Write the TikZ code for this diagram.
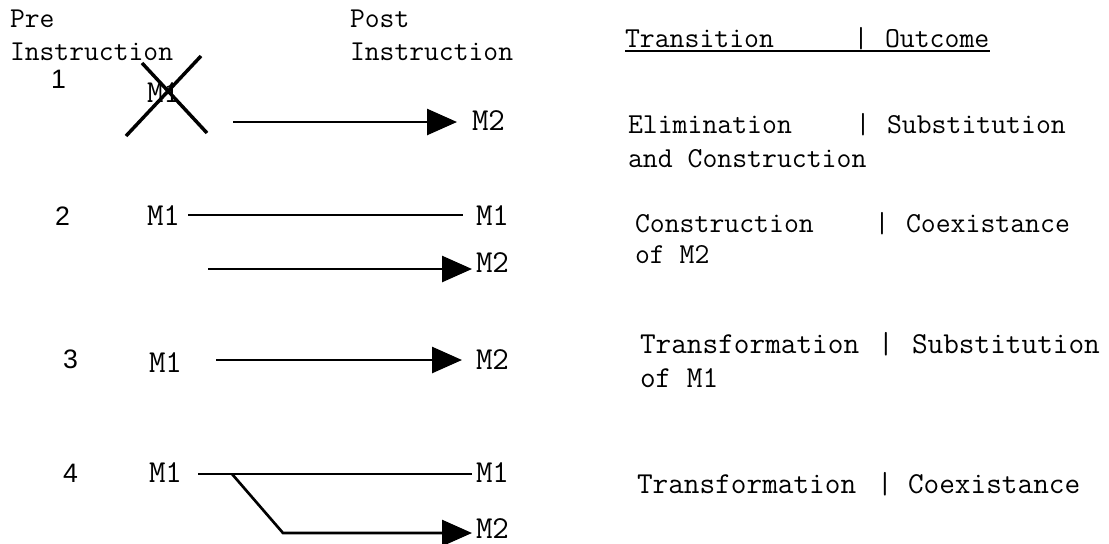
\documentclass[tikz,border=0pt]{standalone}
\usepackage{fontspec}
\newfontfamily\csans{Liberation Sans}
\usetikzlibrary{arrows.meta}
\begin{document}
\begin{tikzpicture}[x=0.75pt,y=-0.75pt,
  every node/.style={inner sep=0pt,outer sep=0pt},
  title/.style={anchor=base west,font=\ttfamily\fontsize{21.6}{22}\selectfont},
  txta/.style={anchor=base west,font=\ttfamily\fontsize{21.7}{23}\selectfont},
  txtb/.style={anchor=base west,font=\ttfamily\fontsize{22.8}{24}\selectfont},
  bara/.style={anchor=base,font=\ttfamily\fontsize{21.7}{23}\selectfont},
  barb/.style={anchor=base,font=\ttfamily\fontsize{22.8}{24}\selectfont},
  num/.style={anchor=base west,font=\csans\fontsize{20}{22}\selectfont},
  mlab/.style={anchor=base west,font=\ttfamily\fontsize{24}{25}\selectfont},
  conn/.style={line width=2pt},
  arr/.style={line width=2pt,-{Triangle[length=22.5pt,width=19.5pt]}},
  crossline/.style={line width=2.6pt}]
\useasboundingbox (0,0) rectangle (1109,543);

% column titles
\node[title] (pre1) at (10,27) {Pre};
\node[title] (pre2) at (10,60) {Instruction};
\node[title] (post1) at (350,27) {Post};
\node[title] (post2) at (350,60) {Instruction};

% header
\node[txta] (htr) at (625,47) {Transition};
\node[bara] (hbar) at (861,47) {|};
\node[txta] (hout) at (885,47) {Outcome};
\coordinate (ul1) at (625,51);
\coordinate (ul2) at (990,51);
\draw[line width=0.8pt] (ul1) -- (ul2);

% row 1
\node[num] (n1) at (51,88) {1};
\node[mlab] (r1a) at (147,102) {M1};
\coordinate (x1a) at (126,136); \coordinate (x1b) at (201,56);
\coordinate (x2a) at (142,63);  \coordinate (x2b) at (207,133);
\draw[crossline] (x1a) -- (x1b);
\draw[crossline] (x2a) -- (x2b);
\node[mlab] (r1b) at (472,130) {M2};
\coordinate (a1s) at (233,122); \coordinate (a1e) at (457,122);
\draw[arr] (a1s) -- (a1e);
\node[txta] (t1a) at (628,133) {Elimination};
\node[bara] (t1bar) at (863,133) {|};
\node[txta] (t1b) at (887,133) {Substitution};
\node[txta] (t1c) at (628,167) {and Construction};

% row 2
\node[num] (n2) at (55,225) {2};
\node[mlab] (r2a) at (147,225) {M1};
\node[mlab] (r2b) at (476,225) {M1};
\node[mlab] (r2c) at (476,272) {M2};
\coordinate (l2s) at (188,215); \coordinate (l2e) at (463,215);
\draw[conn] (l2s) -- (l2e);
\coordinate (a2s) at (208,269); \coordinate (a2e) at (472,269);
\draw[arr] (a2s) -- (a2e);
\node[txta] (t2a) at (635,232) {Construction};
\node[bara] (t2bar) at (882,232) {|};
\node[txta] (t2b) at (906,232) {Coexistance};
\node[txta] (t2c) at (635,263) {of M2};

% row 3
\node[num] (n3) at (63,368) {3};
\node[mlab] (r3a) at (149,372) {M1};
\node[mlab] (r3b) at (476,369) {M2};
\coordinate (a3s) at (216,360); \coordinate (a3e) at (462,360);
\draw[arr] (a3s) -- (a3e);
\node[txtb] (t3a) at (640,353) {Transformation};
\node[barb] (t3bar) at (886,353) {|};
\node[txtb] (t3b) at (912,353) {Substitution};
\node[txtb] (t3c) at (640,387) {of M1};

% row 4
\node[num] (n4) at (63,482) {4};
\node[mlab] (r4a) at (149,482) {M1};
\node[mlab] (r4b) at (476,482) {M1};
\node[mlab] (r4c) at (476,538) {M2};
\coordinate (l4s) at (198,474); \coordinate (l4e) at (472,474);
\draw[conn] (l4s) -- (l4e);
\coordinate (b4s) at (232,474); \coordinate (b4k) at (283,533); \coordinate (b4e) at (472,533);
\draw[arr] (b4s) -- (b4k) -- (b4e);
\node[txtb] (t4a) at (637,493) {Transformation};
\node[barb] (t4bar) at (885,493) {|};
\node[txtb] (t4b) at (908,493) {Coexistance};
\end{tikzpicture}
\end{document}
